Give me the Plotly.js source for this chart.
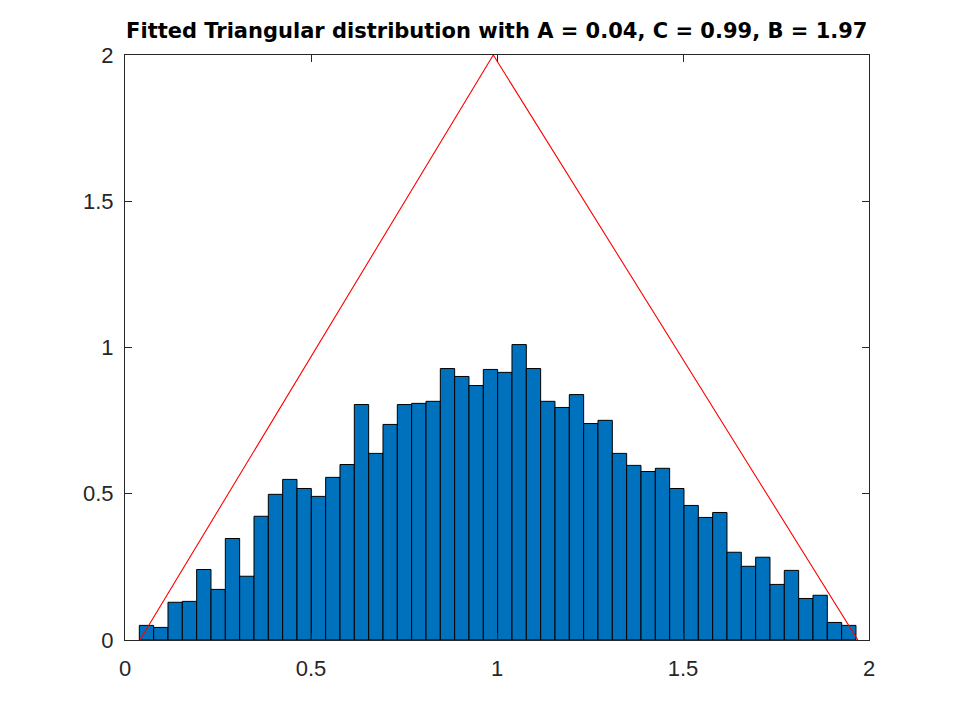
<!DOCTYPE html>
<html>
<head>
<meta charset="utf-8">
<script src="https://cdn.plot.ly/plotly-3.0.1.min.js"></script>
<style>
  html, body { margin: 0; padding: 0; background: #fff; }
  #chart { width: 960px; height: 720px; }
</style>
</head>
<body>
<div id="chart"></div>
<script>
// histogram bins (normalised density)
const binLo = 0.0385;
const binHi = 1.965;
const density = [
  0.050, 0.043, 0.129, 0.132, 0.241, 0.173, 0.347, 0.218, 0.423, 0.498,
  0.549, 0.518, 0.491, 0.556, 0.600, 0.805, 0.638, 0.737, 0.805, 0.809,
  0.816, 0.928, 0.901, 0.870, 0.925, 0.915, 1.010, 0.928, 0.816, 0.795,
  0.839, 0.740, 0.751, 0.638, 0.597, 0.576, 0.587, 0.518, 0.460, 0.419,
  0.436, 0.300, 0.252, 0.283, 0.190, 0.238, 0.142, 0.153, 0.060, 0.050
];

// fitted triangle A, C, B
const triX = [0.04, 0.99, 1.97];
const triY = [0, 2, 0];

const tickVals = [0, 0.5, 1, 1.5, 2];
const tickText = ['0', '0.5', '1', '1.5', '2'];

const binW = (binHi - binLo) / density.length;
const centers = density.map((_, i) => binLo + binW * (i + 0.5));

const trazas = [
  {
    x: centers,
    y: density,
    width: binW,
    type: 'bar',
    marker: { color: '#0072BD', line: { color: '#000000', width: 1 } }
  },
  {
    x: triX,
    y: triY,
    type: 'scatter',
    mode: 'lines',
    line: { color: '#FF0000', width: 1.1 }
  }
];

const eje = {
  range: [0, 2],
  tickvals: tickVals,
  ticktext: tickText,
  ticks: 'inside',
  ticklen: 7,
  tickwidth: 1,
  tickcolor: '#262626',
  showline: true,
  linecolor: '#262626',
  linewidth: 1,
  mirror: 'ticks',
  showgrid: false,
  zeroline: false,
  tickfont: { family: 'Liberation Sans, Arial, sans-serif', size: 22, color: '#262626' },
  fixedrange: true
};

const layout = {
  width: 960,
  height: 720,
  paper_bgcolor: '#ffffff',
  plot_bgcolor: '#ffffff',
  font: { family: 'Liberation Sans, Arial, sans-serif', color: '#000' },
  margin: { l: 125, r: 91, t: 55, b: 80 },
  showlegend: false,
  bargap: 0,
  title: {
    text: '<b>Fitted Triangular distribution with A = 0.04, C = 0.99, B = 1.97</b>',
    font: { family: 'DejaVu Sans, sans-serif', size: 21, color: '#000' },
    x: 0.5175, xanchor: 'center',
    y: 0.958, yanchor: 'middle'
  },
  xaxis: Object.assign({}, eje, { ticklabelstandoff: 9 }),
  yaxis: Object.assign({}, eje, { ticklabelstandoff: 6 })
};

Plotly.newPlot('chart', trazas, layout, { displayModeBar: false, staticPlot: true });
</script>
</body>
</html>
